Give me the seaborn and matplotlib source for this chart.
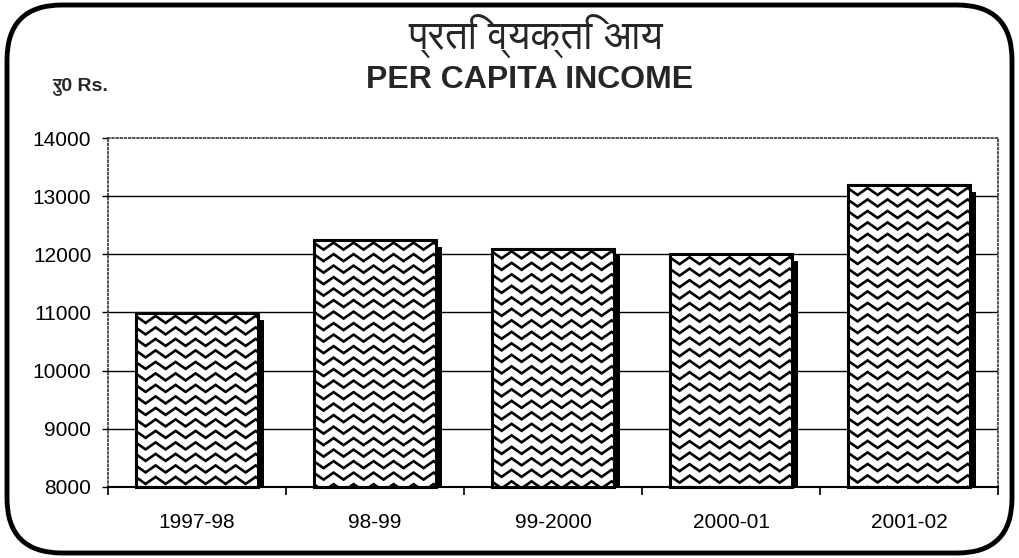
import numpy as np
import matplotlib
matplotlib.use('Agg')
import matplotlib.pyplot as plt
import matplotlib.patheffects as pe
from matplotlib.patches import Rectangle, FancyBboxPatch
from matplotlib import font_manager as fm
from matplotlib.ft2font import FT2Font
import seaborn as sns

# data
years = ['1997-98', '98-99', '99-2000', '2000-01', '2001-02']
income = [10990, 12250, 12100, 12000, 13190]
yticks = [8000, 9000, 10000, 11000, 12000, 13000, 14000]

title_hi = 'प्रति व्यक्ति आय'
title_en = 'PER CAPITA INCOME'
unit_label = 'रु0 Rs.'

sns.set_theme(style='white')
plt.rcParams['font.family'] = ['Liberation Sans', 'DejaVu Sans']

# find installed fonts with Devanagari glyphs, prefer a plain sans one
cands = []
for f in fm.fontManager.ttflist:
    try:
        if 0x092A in FT2Font(f.fname).get_charmap():
            cands.append(f.name)
    except Exception:
        pass
cands = sorted(set(cands), key=lambda n: ('Mono' in n, 'Sans' not in n, 'Serif' not in n, n))
hi_family = ['Liberation Sans'] + cands[:1] + ['DejaVu Sans']

fig = plt.figure(figsize=(10.19, 5.58), dpi=100)
ax = fig.add_axes([108 / 1019, 1 - 487 / 558, 890 / 1019, (487 - 138) / 558])

sns.barplot(x=years, y=income, color='white', saturation=1, width=0.69,
            edgecolor='none', linewidth=0, ax=ax, zorder=2)
ax.set_ylim(yticks[0], yticks[-1])
ax.set_xlim(-0.5, len(years) - 0.5)
ax.set_yticks(yticks)
ax.set_xlabel('')
ax.set_ylabel('')

# gridlines
ax.set_axisbelow(True)
ax.yaxis.grid(True, color='black', lw=1.0)
ax.xaxis.grid(False)
ax.yaxis.get_gridlines()[-1].set_visible(False)

for side in ['left', 'top', 'right']:
    ax.spines[side].set_linestyle((0, (1, 1.5)))
    ax.spines[side].set_color('#333333')
    ax.spines[side].set_linewidth(1.2)
ax.spines['bottom'].set_color('black')
ax.spines['bottom'].set_linewidth(1.5)

ax.tick_params(axis='y', which='major', left=True, length=4, width=1, color='black',
               pad=8, labelsize=15, labelcolor='black')
ax.tick_params(axis='x', which='major', bottom=False, length=0, pad=19,
               labelsize=15, labelcolor='black')
ax.set_xticks(np.arange(-0.5, len(years)), minor=True)
ax.tick_params(axis='x', which='minor', bottom=True, length=6, width=1.2, color='black')

# wavy fill + drop shadow for each bar
fig.canvas.draw()
px_x = ax.transData.transform([(1, 0)])[0][0] - ax.transData.transform([(0, 0)])[0][0]
px_y = ax.transData.transform([(0, 1000)])[0][1] - ax.transData.transform([(0, 0)])[0][1]
period = 20 / px_x
row = 11.5 / px_y * 1000
amp = 3.5 / px_y * 1000

for p in ax.patches[:len(years)]:
    p.set_path_effects([pe.SimplePatchShadow(offset=(4.2, -5), shadow_rgbFace='black', alpha=1),
                        pe.Normal()])
    x0, w, top = p.get_x(), p.get_width(), p.get_y() + p.get_height()
    clip = Rectangle((x0, yticks[0]), w, top - yticks[0], transform=ax.transData)
    xs = np.arange(x0 - period, x0 + w + period, period / 2)
    zig = np.where(np.arange(len(xs)) % 2 == 0, amp, -amp)
    yy = top - row * 0.55
    while yy > yticks[0] - row:
        ln, = ax.plot(xs, yy + zig, color='black', lw=1.9, zorder=3, solid_joinstyle='miter')
        ln.set_clip_path(clip)
        yy -= row
    ax.add_patch(Rectangle((x0, yticks[0]), w, top - yticks[0], fill=False,
                           ec='black', lw=2.2, zorder=4, clip_on=False))

# titles
fig.text(536 / 1019, 1 - 36 / 558, title_hi, ha='center', va='center', fontsize=29,
         family=hi_family)
fig.text(530 / 1019, 1 - 80 / 558, title_en, ha='center', va='center', fontsize=23,
         fontweight='bold')
fig.text(108 / 1019, 1 - 87 / 558, unit_label, ha='right', va='center', fontsize=14,
         fontweight='bold', family=hi_family)

# rounded frame around everything
frame = FancyBboxPatch((0.07, 0.05), 10.19 - 0.14, 5.58 - 0.1,
                       boxstyle='round,pad=0,rounding_size=0.55',
                       transform=fig.dpi_scale_trans, fill=False, ec='black', lw=3.5)
fig.patches.append(frame)

fig.savefig('out.png', dpi=100)
